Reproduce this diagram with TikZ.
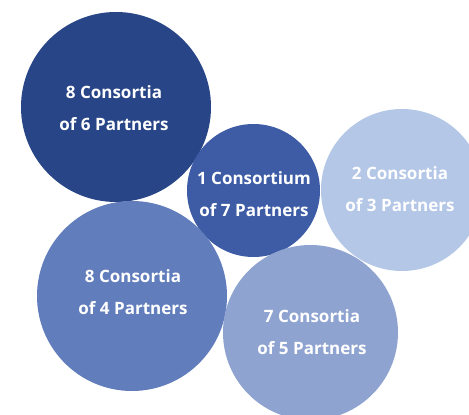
\documentclass[tikz,border=0pt]{standalone}
\usepackage{fontspec}
\setmainfont{Open Sans}
\definecolor{cA}{HTML}{284587}
\definecolor{cB}{HTML}{3D5CA5}
\definecolor{cC}{HTML}{B4C7E7}
\definecolor{cD}{HTML}{617DBC}
\definecolor{cE}{HTML}{8FA3D1}
\tikzset{
  lbl/.style={text=white, font=\bfseries\fontsize{17}{31.5}\selectfont, align=center, inner sep=0pt}
}
\begin{document}
\begin{tikzpicture}[x=1pt,y=1pt]
\useasboundingbox (0,0) rectangle (469,415);
\begin{scope}
\clip (0,0) rectangle (469,415);
\fill[cA] (116,308) circle (95);
\fill[cB] (253.5,224.5) circle (66.5);
\fill[cC] (402,225) circle (81);
\fill[cD] (132,119) circle (95);
\fill[cE] (310.5,82.5) circle (87.5);
\end{scope}
\node[lbl] (t1) at (114,307) {8 Consortia\\of 6 Partners};
\node[lbl] (t2) at (254,221) {1 Consortium\\of 7 Partners};
\node[lbl] (t3) at (400,226) {2 Consortia\\of 3 Partners};
\node[lbl] (t4) at (133,123) {8 Consortia\\of 4 Partners};
\node[lbl] (t5) at (312,83) {7 Consortia\\of 5 Partners};
\end{tikzpicture}
\end{document}
